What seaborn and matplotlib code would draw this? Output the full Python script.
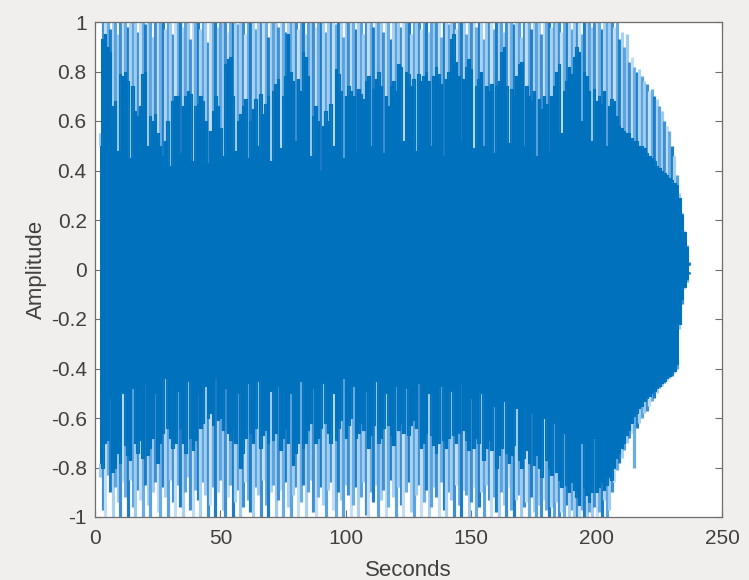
import numpy as np
import matplotlib
matplotlib.use("Agg")
import matplotlib.pyplot as plt
from matplotlib.ticker import FuncFormatter
import seaborn as sns

# one value per second
seconds = np.arange(2, 238)

peak_upper = [
    0.55, 1.0, 1.0, 1.0, 0.97, 1.0, 1.0, 0.95, 1.0, 1.0,
    1.0, 0.98, 1.0, 1.0, 1.0, 0.96, 1.0, 1.0, 0.99, 1.0,
    1.0, 0.94, 1.0, 1.0, 1.0, 1.0, 0.97, 1.0, 1.0, 0.95,
    1.0, 1.0, 1.0, 0.98, 1.0, 1.0, 0.93, 1.0, 1.0, 1.0,
    0.97, 1.0, 1.0, 0.92, 1.0, 1.0, 1.0, 0.98, 1.0, 1.0,
    1.0, 0.96, 1.0, 1.0, 1.0, 0.99, 1.0, 1.0, 0.95, 1.0,
    1.0, 1.0, 0.97, 1.0, 1.0, 1.0, 1.0, 0.94, 1.0, 1.0,
    1.0, 0.98, 1.0, 1.0, 0.96, 1.0, 1.0, 1.0, 1.0, 0.97,
    1.0, 1.0, 0.95, 1.0, 1.0, 1.0, 0.98, 1.0, 1.0, 1.0,
    0.96, 1.0, 1.0, 1.0, 0.99, 1.0, 1.0, 0.94, 1.0, 1.0,
    1.0, 1.0, 0.97, 1.0, 1.0, 0.95, 1.0, 1.0, 1.0, 0.98,
    1.0, 1.0, 1.0, 0.96, 1.0, 1.0, 0.93, 1.0, 1.0, 1.0,
    0.98, 1.0, 1.0, 1.0, 0.95, 1.0, 1.0, 1.0, 0.97, 1.0,
    1.0, 0.96, 1.0, 1.0, 1.0, 1.0, 0.94, 1.0, 1.0, 0.99,
    1.0, 1.0, 0.97, 1.0, 1.0, 1.0, 0.95, 1.0, 1.0, 1.0,
    0.98, 1.0, 1.0, 0.93, 1.0, 1.0, 1.0, 0.97, 1.0, 1.0,
    1.0, 0.96, 1.0, 1.0, 1.0, 0.99, 1.0, 1.0, 0.94, 1.0,
    1.0, 1.0, 0.97, 1.0, 1.0, 1.0, 0.95, 1.0, 1.0, 1.0,
    0.98, 1.0, 1.0, 1.0, 0.96, 1.0, 1.0, 1.0, 0.97, 1.0,
    1.0, 1.0, 0.95, 1.0, 1.0, 1.0, 0.98, 1.0, 1.0, 1.0,
    0.97, 1.0, 1.0, 1.0, 1.0, 0.98, 1.0, 0.93, 0.96, 0.9,
    0.95, 0.84, 0.86, 0.82, 0.8, 0.81, 0.78, 0.76, 0.75, 0.72,
    0.73, 0.7, 0.69, 0.66, 0.64, 0.6, 0.58, 0.56, 0.5, 0.46,
    0.38, 0.31, 0.23, 0.16, 0.1, 0.03,
]

peak_lower = [
    -0.84, -0.97, -1.0, -0.83, -0.9, -1.0, -0.88, -0.94, -1.0, -0.86,
    -0.92, -1.0, -0.85, -0.96, -1.0, -0.89, -0.93, -1.0, -0.87, -0.95,
    -1.0, -0.9, -0.86, -0.98, -1.0, -0.88, -0.92, -1.0, -0.85, -0.94,
    -1.0, -0.87, -0.96, -1.0, -0.9, -0.84, -0.97, -1.0, -0.89, -0.93,
    -1.0, -0.86, -0.91, -1.0, -0.95, -0.88, -1.0, -0.9, -0.85, -0.97,
    -1.0, -0.92, -0.87, -1.0, -0.94, -0.89, -1.0, -0.96, -0.86, -0.93,
    -0.98, -1.0, -0.88, -0.91, -1.0, -0.85, -0.95, -1.0, -0.9, -0.87,
    -1.0, -0.93, -0.89, -1.0, -0.86, -0.96, -1.0, -0.91, -0.88, -1.0,
    -0.94, -0.87, -1.0, -0.9, -0.85, -0.98, -1.0, -0.92, -0.88, -0.95,
    -1.0, -0.89, -0.86, -0.97, -1.0, -0.9, -0.93, -1.0, -0.87, -0.91,
    -1.0, -0.95, -0.88, -1.0, -0.92, -0.86, -0.99, -1.0, -0.9, -0.94,
    -0.87, -1.0, -0.93, -0.89, -1.0, -0.96, -0.85, -0.92, -1.0, -0.88,
    -0.95, -1.0, -0.9, -0.86, -0.98, -1.0, -0.91, -0.87, -1.0, -0.94,
    -0.89, -1.0, -0.96, -0.88, -0.92, -1.0, -0.86, -0.97, -1.0, -0.9,
    -0.93, -1.0, -0.87, -0.95, -1.0, -0.89, -0.91, -1.0, -0.94, -0.88,
    -1.0, -0.96, -0.9, -1.0, -0.87, -0.93, -1.0, -0.92, -0.98, -1.0,
    -0.9, -0.95, -1.0, -0.88, -0.97, -1.0, -0.93, -0.91, -1.0, -0.96,
    -0.94, -1.0, -0.92, -0.98, -1.0, -0.95, -1.0, -0.93, -0.97, -1.0,
    -0.96, -1.0, -0.94, -1.0, -0.98, -1.0, -0.95, -1.0, -0.97, -1.0,
    -1.0, -1.0, -0.97, -1.0, -1.0, -0.98, -1.0, -0.96, -1.0, -0.98,
    -1.0, -0.93, -1.0, -0.97, -0.9, -0.86, -0.81, -0.78, -0.76, -0.73,
    -0.7, -0.68, -0.66, -0.8, -0.64, -0.62, -0.6, -0.58, -0.57, -0.55,
    -0.53, -0.52, -0.5, -0.48, -0.47, -0.46, -0.45, -0.44, -0.43, -0.42,
    -0.4, -0.24, -0.14, -0.08, -0.05, -0.02,
]

# dense (dark) part of the waveform; the low values are where a single peak cuts in
core_upper = [
    0.5, 0.93, 0.95, 0.9, 0.88, 0.66, 0.68, 0.48, 0.79, 0.78,
    0.8, 0.76, 0.45, 0.74, 0.64, 0.62, 0.66, 0.79, 0.8, 0.5,
    0.62, 0.6, 0.63, 0.55, 0.5, 0.46, 0.52, 0.6, 0.42, 0.68,
    0.7, 0.7, 0.47, 0.66, 0.7, 0.72, 0.71, 0.44, 0.66, 0.67,
    0.7, 0.68, 0.6, 0.43, 0.56, 0.64, 0.7, 0.66, 0.57, 0.46,
    0.83, 0.85, 0.86, 0.7, 0.48, 0.6, 0.63, 0.66, 0.69, 0.45,
    0.6, 0.65, 0.69, 0.5, 0.71, 0.63, 0.67, 0.7, 0.44, 0.72,
    0.75, 0.77, 0.49, 0.7, 0.78, 0.95, 0.8, 0.76, 0.52, 0.77,
    0.72, 0.88, 0.86, 0.78, 0.46, 0.62, 0.66, 0.6, 0.4, 0.58,
    0.64, 0.6, 0.67, 0.5, 0.81, 0.79, 0.72, 0.45, 0.7, 0.74,
    0.72, 0.7, 0.48, 0.73, 0.71, 0.69, 0.76, 0.78, 0.5, 0.73,
    0.77, 0.8, 0.74, 0.47, 0.7, 0.66, 0.74, 0.76, 0.72, 0.83,
    0.82, 0.52, 0.8, 0.79, 0.74, 0.77, 0.48, 0.79, 0.76, 0.78,
    0.8, 0.76, 0.5, 0.78, 0.82, 0.79, 0.75, 0.46, 0.77, 0.8,
    0.93, 0.95, 0.84, 0.78, 0.52, 0.77, 0.82, 0.85, 0.81, 0.49,
    0.74, 0.77, 0.8, 0.5, 0.74, 0.72, 0.75, 0.47, 0.74, 0.76,
    0.88, 0.9, 0.74, 0.51, 0.73, 0.7, 0.78, 0.83, 0.84, 0.5,
    0.74, 0.7, 0.68, 0.72, 0.46, 0.69, 0.65, 0.7, 0.67, 0.48,
    0.7, 0.74, 0.8, 0.83, 0.55, 0.72, 0.76, 0.82, 0.79, 0.86,
    0.9, 0.88, 0.6, 0.8, 0.78, 0.72, 0.52, 0.73, 0.68, 0.7,
    0.67, 0.72, 0.5, 0.66, 0.69, 0.68, 0.62, 0.58, 0.57, 0.56,
    0.55, 0.55, 0.53, 0.52, 0.52, 0.5, 0.5, 0.49, 0.47, 0.46,
    0.45, 0.44, 0.42, 0.41, 0.4, 0.39, 0.38, 0.37, 0.36, 0.35,
    0.34, 0.29, 0.22, 0.15, 0.09, 0.02,
]

core_lower = [
    -0.78, -0.8, -0.7, -0.69, -0.52, -0.82, -0.8, -0.74, -0.78, -0.5,
    -0.71, -0.75, -0.77, -0.48, -0.7, -0.74, -0.69, -0.76, -0.46, -0.75,
    -0.72, -0.68, -0.5, -0.78, -0.7, -0.66, -0.44, -0.64, -0.68, -0.72,
    -0.7, -0.49, -0.64, -0.7, -0.74, -0.45, -0.68, -0.73, -0.69, -0.5,
    -0.64, -0.62, -0.47, -0.6, -0.58, -0.63, -0.44, -0.61, -0.6, -0.65,
    -0.48, -0.66, -0.69, -0.64, -0.7, -0.5, -0.8, -0.74, -0.68, -0.46,
    -0.66, -0.7, -0.64, -0.45, -0.72, -0.67, -0.65, -0.7, -0.49, -0.69,
    -0.66, -0.47, -0.73, -0.68, -0.64, -0.7, -0.5, -0.79, -0.74, -0.7,
    -0.45, -0.72, -0.7, -0.65, -0.62, -0.48, -0.7, -0.68, -0.64, -0.46,
    -0.62, -0.66, -0.7, -0.5, -0.69, -0.64, -0.61, -0.44, -0.68, -0.63,
    -0.6, -0.47, -0.68, -0.66, -0.62, -0.65, -0.49, -0.72, -0.67, -0.63,
    -0.45, -0.7, -0.68, -0.64, -0.5, -0.63, -0.67, -0.71, -0.47, -0.65,
    -0.62, -0.66, -0.48, -0.67, -0.63, -0.61, -0.64, -0.46, -0.72, -0.7,
    -0.66, -0.5, -0.67, -0.71, -0.74, -0.7, -0.47, -0.69, -0.72, -0.68,
    -0.49, -0.67, -0.7, -0.66, -0.46, -0.65, -0.69, -0.73, -0.52, -0.72,
    -0.68, -0.7, -0.5, -0.77, -0.72, -0.69, -0.73, -0.55, -0.8, -0.75,
    -0.72, -0.53, -0.74, -0.78, -0.75, -0.71, -0.56, -0.77, -0.8, -0.76,
    -0.73, -0.78, -0.58, -0.79, -0.75, -0.8, -0.84, -0.6, -0.77, -0.8,
    -0.83, -0.62, -0.82, -0.85, -0.88, -0.66, -0.87, -0.9, -0.86, -0.89,
    -0.92, -0.95, -0.7, -0.88, -0.91, -0.94, -0.9, -0.68, -0.9, -0.88,
    -0.86, -0.89, -0.87, -0.84, -0.85, -0.8, -0.76, -0.74, -0.72, -0.7,
    -0.67, -0.65, -0.62, -0.59, -0.58, -0.56, -0.55, -0.53, -0.52, -0.51,
    -0.5, -0.49, -0.48, -0.47, -0.46, -0.45, -0.44, -0.43, -0.42, -0.41,
    -0.38, -0.22, -0.12, -0.07, -0.04, -0.01,
]

x_ticks = [0, 50, 100, 150, 200, 250]
y_ticks = [-1, -0.8, -0.6, -0.4, -0.2, 0, 0.2, 0.4, 0.6, 0.8, 1]

sns.set_style("white")
plt.rcParams["font.family"] = ["Liberation Sans", "DejaVu Sans"]
plt.rcParams["axes.unicode_minus"] = False

blue = "#0072BD"
grey = "#404040"
# streak shades, cycled so neighbouring peaks don't look the same
shades = ["#9ecbee", "#3f8fd2", "#c2def5", "#6aaee3", "#1f7cc6", "#a9d1f0", "#5aa3df"]
streak_cols = [shades[i % len(shades)] for i in range(len(seconds))]

fig = plt.figure(figsize=(7.49, 5.80), dpi=100, facecolor="#f0efed")
ax = fig.add_axes([95 / 749, 1 - 517 / 580, 627 / 749, 495 / 580])
ax.set_facecolor("white")

ax.vlines(seconds, core_upper, peak_upper, colors=streak_cols, lw=2.3)
ax.vlines(seconds, peak_lower, core_lower, colors=streak_cols, lw=2.3)
ax.fill_between(seconds, core_lower, core_upper, color=blue, lw=0, step="mid")
sns.lineplot(x=seconds, y=core_upper, color=blue, lw=0.8, drawstyle="steps-mid", ax=ax)
sns.lineplot(x=seconds, y=core_lower, color=blue, lw=0.8, drawstyle="steps-mid", ax=ax)

ax.set_xlim(0, 250)
ax.set_ylim(-1, 1)
ax.set_xticks(x_ticks)
ax.set_yticks(y_ticks)
ax.yaxis.set_major_formatter(FuncFormatter(lambda v, p: f"{v:g}" if abs(v) > 1e-9 else "0"))
ax.tick_params(direction="in", length=5, width=0.8, color="#6e6e6e",
               labelsize=15, labelcolor=grey, top=True, right=True,
               bottom=True, left=True)
ax.tick_params(axis="x", pad=9)
ax.tick_params(axis="y", pad=6)
for s in ax.spines.values():
    s.set_color("#6e6e6e")
    s.set_linewidth(0.9)

ax.set_xlabel("Seconds", fontsize=16, color=grey, labelpad=8)
ax.set_ylabel("Amplitude", fontsize=16, color=grey, labelpad=3)

fig.savefig("out.png", dpi=100, facecolor=fig.get_facecolor())
